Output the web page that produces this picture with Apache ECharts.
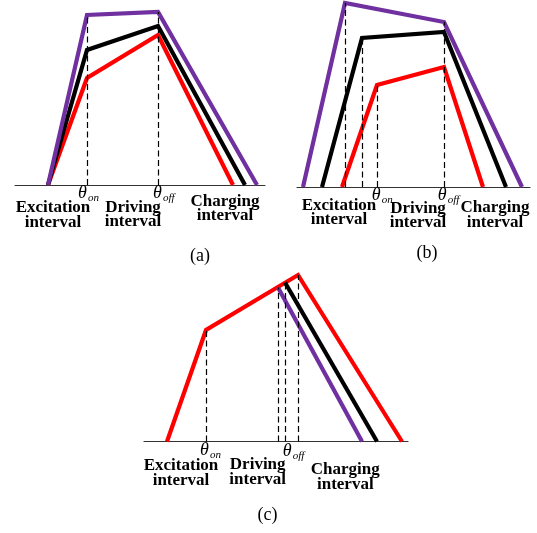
<!DOCTYPE html>
<html><head><meta charset="utf-8">
<script src="https://cdn.jsdelivr.net/npm/echarts@6/dist/echarts.min.js"></script>
<style>html,body{margin:0;padding:0;background:#fff}#c{width:537px;height:533px}</style>
</head><body><div id="c"></div>
<script>
// Panel (a): [angle position, current height]
const aPurple = [[33,0],[72,170],[143,173],[242,0]];
const aBlack  = [[33,0],[72,135],[143,159],[230,0]];
const aRed    = [[33,0],[72,107],[143,150],[218,0]];
const aDash   = [[72,170],[143,173]];
// Panel (b)
const bPurple = [[6,0],[48,184],[147,165],[225,0]];
const bBlack  = [[25,0],[65,149],[147,155],[209,0]];
const bRed    = [[45,0],[80,102],[147,120],[186,0]];
const bDash   = [[48,184],[65,149],[80,102],[147,165]];
// Panel (c)
const cRed    = [[23,0],[62,111.5],[154,166.5],[258,0]];
const cBlack  = [[141,159],[233,0]];
const cPurple = [[134,154],[218,0]];
const cDash   = [[62,111.5],[134,154],[141,159],[154,166.5]];
// Texts
const intervalLabels = ['Excitation\ninterval','Driving\ninterval','Charging\ninterval'];
const thetaSymbol = 'θ';
const thetaSubs = ['on','off'];
const panelLabels = ['(a)','(b)','(c)'];

const PURPLE = '#7030A0', BLACK = '#000000', RED = '#FF0000';
const SERIF = '"Liberation Serif","DejaVu Serif",serif';

const grids = [
  {left:15, top:5, width:250, height:180},
  {left:297, top:2, width:233, height:185},
  {left:144, top:271.5, width:264, height:170}
];
const xMax = [250,233,264], yMax = [180,185,170];

function xAx(i){return {type:'value', gridIndex:i, min:0, max:xMax[i], show:true,
  axisLine:{show:true, onZero:false, lineStyle:{color:'#333', width:1.2}},
  axisTick:{show:false}, axisLabel:{show:false}, splitLine:{show:false}};}
function yAx(i){return {type:'value', gridIndex:i, min:0, max:yMax[i], show:false, splitLine:{show:false}};}

function lineS(i, data, color, z){
  return {type:'line', xAxisIndex:i, yAxisIndex:i, data:data, symbol:'none', clip:false, z:z,
    silent:true, animation:false,
    lineStyle:{color:color, width:4.2, join:'miter', cap:'butt'}};
}
function dashS(i, tops){
  return {type:'line', xAxisIndex:i, yAxisIndex:i, data:tops, symbol:'none', clip:false, z:1,
    silent:true, animation:false, lineStyle:{opacity:0},
    markLine:{silent:true, symbol:'none', animation:false, label:{show:false},
      lineStyle:{color:'#000', width:1.2, type:[6,3.5]},
      data: tops.map(p => [{coord:[p[0],0]},{coord:[p[0],p[1]]}])}};
}

const series = [
  dashS(0,aDash), lineS(0,aRed,RED,2), lineS(0,aBlack,BLACK,3), lineS(0,aPurple,PURPLE,4),
  dashS(1,bDash), lineS(1,bRed,RED,2), lineS(1,bBlack,BLACK,3), lineS(1,bPurple,PURPLE,4),
  dashS(2,cDash), lineS(2,cRed,RED,2), lineS(2,cBlack,BLACK,3), lineS(2,cPurple,PURPLE,4)
];

function txt(x,y,text,font,align,va,lh){
  return {type:'text', x:x, y:y, silent:true, z:10,
    style:{text:text, font:font, fill:'#000', align:align||'center', verticalAlign:va||'middle', lineHeight:lh||undefined}};
}
const BOLD = 'bold 17px '+SERIF, TH = 'italic 18px '+SERIF, SUB = 'italic 11px '+SERIF, PL = '18px '+SERIF;
const intervalPos = [
  [[53,215],[133,214.5],[225,208.7]],
  [[339,212.8],[418,215.8],[495,215.3]],
  [[181,473.3],[257.7,472.3],[345.3,477]]
];
const thetaPos = [
  [[78,193.5],[153,193.5]],
  [[371.7,195],[437.7,195]],
  [[200,450],[282.7,451.5]]
];
const panelPos = [[200,256],[427,253],[267.5,515]];

const graphic = [];
for (let p=0;p<3;p++){
  for (let k=0;k<3;k++) graphic.push(txt(intervalPos[p][k][0], intervalPos[p][k][1], intervalLabels[k], BOLD, 'center','middle',14.5));
  for (let k=0;k<2;k++){
    graphic.push(txt(thetaPos[p][k][0], thetaPos[p][k][1], thetaSymbol, TH, 'left','middle'));
    graphic.push(txt(thetaPos[p][k][0]+10, thetaPos[p][k][1]+5, thetaSubs[k], SUB, 'left','middle'));
  }
  graphic.push(txt(panelPos[p][0], panelPos[p][1], panelLabels[p], PL, 'center','middle'));
}

const chart = echarts.init(document.getElementById('c'), null, {renderer:'canvas'});
chart.setOption({
  animation:false,
  backgroundColor:'#fff',
  grid: grids,
  xAxis: [xAx(0),xAx(1),xAx(2)],
  yAxis: [yAx(0),yAx(1),yAx(2)],
  series: series,
  graphic: graphic
});
</script></body></html>
